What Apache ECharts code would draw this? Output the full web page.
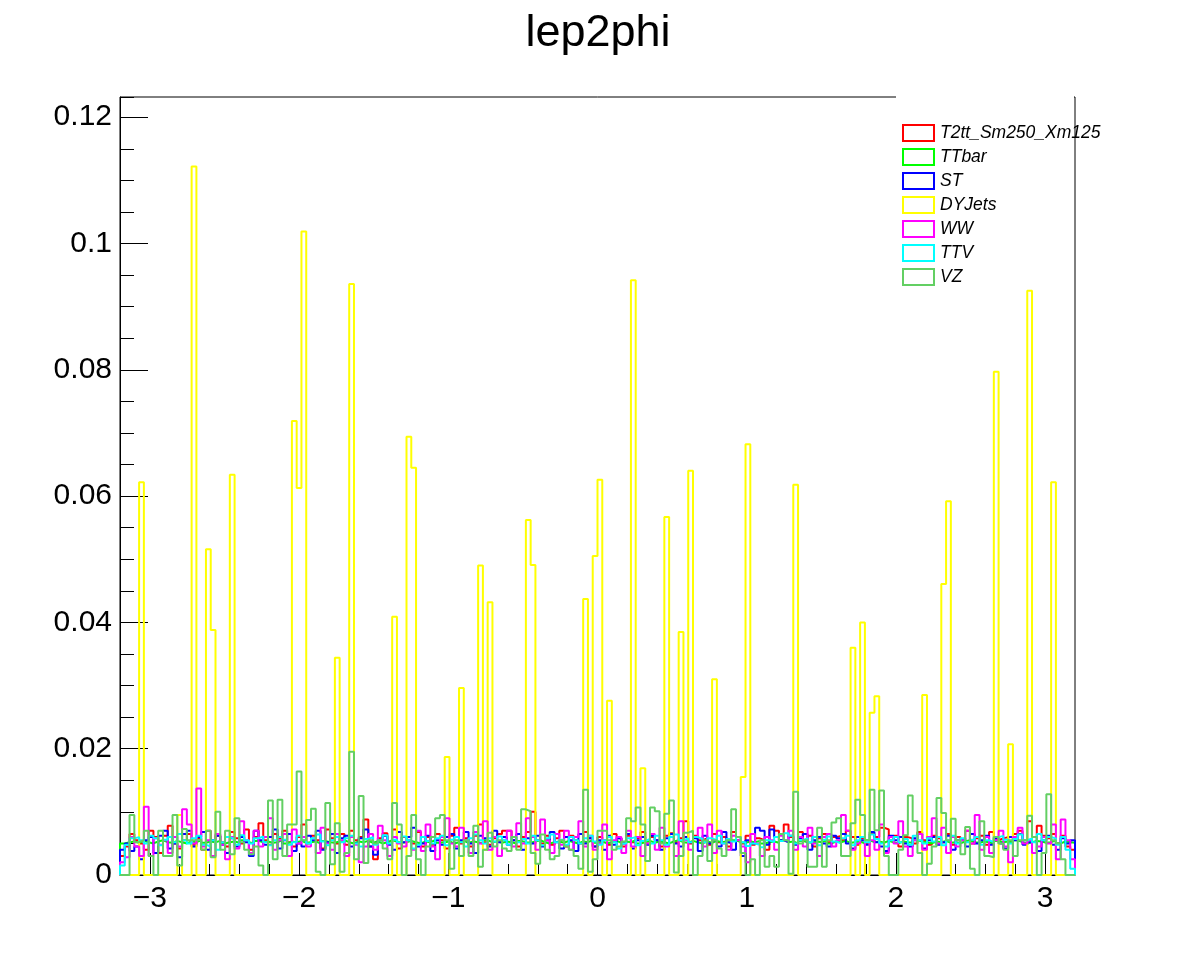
<!DOCTYPE html>
<html><head><meta charset="utf-8">
<script src="https://cdn.jsdelivr.net/npm/echarts@6/dist/echarts.min.js"></script>
<style>html,body{margin:0;padding:0;background:#fff}#c{width:1196px;height:972px}</style>
</head><body><div id="c"></div>
<script>
// Histogram binning
const xMin = -3.2, xMax = 3.2, nBins = 200;
const yMax = 0.1232;
const xTickValues = [-3, -2, -1, 0, 1, 2, 3];
const xTickLabels = ['\u22123', '\u22122', '\u22121', '0', '1', '2', '3'];

const seriesNames = ['T2tt_Sm250_Xm125', 'TTbar', 'ST', 'DYJets', 'WW', 'TTV', 'VZ'];
const seriesColors = ['#ff0000', '#00ff00', '#0000ff', '#ffff00', '#ff00ff', '#00ffff', '#63cf63'];

const t2tt = [
.0030,.0045,.0065,.0055,.0050,.0040,.0070,.0060,.0035,.0062,
.0078,.0050,.0042,.0055,.0065,.0048,.0058,.0040,.0070,.0055,
.0062,.0052,.0045,.0068,.0058,.0050,.0072,.0040,.0060,.0082,
.0055,.0048,.0065,.0058,.0070,.0052,.0045,.0060,.0080,.0050,
.0062,.0055,.0042,.0072,.0058,.0050,.0065,.0048,.0070,.0055,
.0060,.0088,.0045,.0025,.0058,.0066,.0050,.0072,.0042,.0060,
.0055,.0050,.0068,.0045,.0060,.0048,.0065,.0055,.0042,.0062,
.0075,.0050,.0058,.0045,.0062,.0080,.0052,.0048,.0058,.0065,
.0070,.0070,.0055,.0045,.0060,.0068,.0100,.0055,.0050,.0062,
.0048,.0058,.0070,.0045,.0062,.0055,.0050,.0068,.0058,.0045,
.0060,.0055,.0048,.0065,.0058,.0045,.0062,.0052,.0058,.0068,
.0050,.0060,.0055,.0045,.0062,.0066,.0052,.0058,.0085,.0050,
.0062,.0055,.0058,.0048,.0065,.0052,.0060,.0045,.0068,.0055,
.0050,.0062,.0048,.0058,.0055,.0040,.0078,.0070,.0055,.0080,
.0060,.0050,.0068,.0055,.0062,.0045,.0058,.0065,.0052,.0060,
.0062,.0055,.0070,.0060,.0048,.0058,.0050,.0065,.0060,.0075,
.0072,.0055,.0062,.0045,.0060,.0058,.0050,.0068,.0055,.0048,
.0062,.0058,.0052,.0065,.0048,.0060,.0055,.0070,.0050,.0058,
.0062,.0048,.0068,.0055,.0058,.0060,.0052,.0065,.0070,.0055,
.0085,.0060,.0078,.0062,.0058,.0065,.0050,.0062,.0045,.0040];

const ttbar = [
.0050,.0052,.0053,.0051,.0054,.0052,.0050,.0053,.0055,.0052,
.0051,.0054,.0052,.0050,.0053,.0052,.0055,.0051,.0053,.0052,
.0054,.0050,.0052,.0053,.0051,.0055,.0052,.0050,.0054,.0052,
.0053,.0051,.0052,.0055,.0050,.0053,.0052,.0054,.0051,.0052,
.0053,.0050,.0054,.0052,.0051,.0053,.0055,.0052,.0050,.0053,
.0052,.0054,.0051,.0053,.0050,.0052,.0055,.0053,.0051,.0052,
.0054,.0052,.0050,.0053,.0052,.0055,.0051,.0052,.0053,.0050,
.0052,.0054,.0051,.0053,.0052,.0050,.0055,.0052,.0053,.0051,
.0053,.0052,.0050,.0054,.0052,.0051,.0053,.0055,.0052,.0050,
.0052,.0053,.0051,.0054,.0052,.0050,.0053,.0052,.0055,.0051,
.0053,.0050,.0052,.0054,.0051,.0053,.0052,.0055,.0050,.0052,
.0054,.0051,.0053,.0052,.0050,.0053,.0055,.0052,.0051,.0054,
.0052,.0050,.0053,.0051,.0054,.0052,.0053,.0050,.0055,.0052,
.0051,.0053,.0052,.0054,.0050,.0052,.0053,.0051,.0055,.0052,
.0053,.0050,.0054,.0052,.0051,.0053,.0052,.0055,.0050,.0053,
.0052,.0054,.0051,.0052,.0053,.0050,.0055,.0052,.0053,.0051,
.0054,.0052,.0050,.0053,.0052,.0051,.0055,.0053,.0052,.0050,
.0053,.0052,.0054,.0051,.0052,.0050,.0053,.0055,.0052,.0051,
.0053,.0052,.0050,.0054,.0052,.0053,.0051,.0055,.0052,.0050,
.0052,.0054,.0053,.0051,.0052,.0055,.0050,.0053,.0052,.0051];

const st = [
.0040,.0050,.0038,.0045,.0025,.0055,.0060,.0035,.0062,.0070,
.0042,.0050,.0028,.0065,.0070,.0045,.0060,.0068,.0040,.0055,
.0062,.0048,.0035,.0058,.0045,.0060,.0052,.0030,.0070,.0055,
.0048,.0060,.0072,.0042,.0055,.0065,.0038,.0050,.0045,.0062,
.0055,.0070,.0040,.0052,.0065,.0035,.0058,.0062,.0045,.0050,
.0058,.0072,.0045,.0032,.0055,.0062,.0048,.0040,.0068,.0052,
.0060,.0075,.0045,.0050,.0062,.0038,.0055,.0048,.0060,.0065,
.0042,.0055,.0068,.0050,.0035,.0062,.0058,.0045,.0070,.0052,
.0060,.0048,.0055,.0065,.0040,.0058,.0050,.0062,.0045,.0055,
.0068,.0052,.0042,.0060,.0055,.0038,.0065,.0050,.0058,.0045,
.0055,.0040,.0062,.0048,.0058,.0050,.0065,.0042,.0055,.0060,
.0048,.0062,.0055,.0040,.0058,.0065,.0050,.0045,.0060,.0052,
.0058,.0038,.0062,.0050,.0055,.0045,.0068,.0052,.0040,.0060,
.0030,.0055,.0050,.0075,.0070,.0048,.0072,.0060,.0055,.0052,
.0062,.0048,.0058,.0065,.0040,.0055,.0060,.0050,.0045,.0062,
.0058,.0065,.0050,.0042,.0060,.0055,.0048,.0068,.0052,.0045,
.0038,.0062,.0055,.0060,.0050,.0045,.0058,.0065,.0042,.0055,
.0060,.0048,.0052,.0062,.0040,.0055,.0058,.0045,.0065,.0050,
.0055,.0062,.0048,.0058,.0050,.0042,.0060,.0055,.0065,.0048,
.0052,.0060,.0038,.0055,.0062,.0048,.0040,.0058,.0050,.0055];

const dyjets = [
0,0,0,0,.0622,0,0,0,0,0,
0,0,.0095,0,0,.1122,0,0,.0516,.0388,
0,0,0,.0634,0,0,0,0,0,0,
0,0,0,0,0,0,.0719,.0613,.1019,0,
0,0,0,0,0,.0344,0,0,.0936,0,
0,0,0,0,0,0,0,.0409,0,0,
.0694,.0645,0,0,0,0,0,0,.0187,0,
0,.0296,0,0,0,.0490,.0040,.0432,0,0,
0,0,0,0,0,.0562,.0491,0,0,0,
0,0,0,0,0,0,0,.0437,0,.0505,
.0626,0,.0276,0,0,0,0,.0942,0,.0169,
0,0,0,0,.0567,0,0,.0385,0,.0640,
0,0,0,0,.0310,0,0,0,0,0,
.0155,.0682,0,0,0,0,0,0,0,0,
0,.0618,0,0,0,0,0,0,0,0,
0,0,0,.0360,0,.0400,0,.0257,.0283,0,
0,0,0,0,0,0,0,0,.0285,0,
0,0,.0461,.0592,0,0,0,0,0,0,
0,0,0,.0797,0,0,.0207,0,0,0,
.0925,0,0,0,0,.0622,0,0,0,0];

const ww = [
.0020,.0028,.0060,.0045,.0030,.0108,.0030,.0058,.0048,.0055,
.0035,.0060,.0045,.0104,.0080,.0050,.0137,.0045,.0055,.0030,
.0065,.0048,.0025,.0060,.0042,.0085,.0055,.0035,.0070,.0045,
.0060,.0090,.0040,.0055,.0065,.0030,.0072,.0050,.0060,.0045,
.0058,.0035,.0075,.0050,.0040,.0065,.0055,.0030,.0060,.0048,
.0020,.0045,.0065,.0040,.0078,.0055,.0030,.0060,.0050,.0045,
.0055,.0040,.0070,.0038,.0080,.0045,.0025,.0060,.0090,.0050,
.0045,.0075,.0055,.0035,.0068,.0050,.0085,.0040,.0060,.0030,
.0055,.0070,.0045,.0082,.0050,.0090,.0060,.0040,.0088,.0055,
.0035,.0065,.0048,.0070,.0040,.0060,.0085,.0045,.0062,.0040,
.0050,.0080,.0025,.0055,.0060,.0035,.0070,.0045,.0060,.0030,
.0050,.0065,.0040,.0075,.0045,.0060,.0030,.0085,.0055,.0040,
.0060,.0075,.0045,.0080,.0035,.0070,.0050,.0040,.0062,.0055,
.0045,.0020,.0065,.0050,.0030,.0060,.0055,.0040,.0062,.0055,
.0070,.0040,.0060,.0045,.0075,.0050,.0030,.0060,.0065,.0045,
.0055,.0095,.0070,.0040,.0050,.0060,.0030,.0055,.0040,.0080,
.0035,.0060,.0050,.0085,.0045,.0030,.0055,.0065,.0040,.0060,
.0090,.0050,.0075,.0035,.0060,.0045,.0055,.0070,.0050,.0095,
.0040,.0060,.0035,.0055,.0070,.0045,.0020,.0060,.0075,.0050,
.0055,.0035,.0045,.0060,.0050,.0080,.0025,.0088,.0055,.0025];

const ttv = [
.0015,.0048,.0058,.0060,.0055,.0050,.0062,.0058,.0047,.0056,
.0060,.0052,.0065,.0055,.0050,.0058,.0062,.0048,.0045,.0055,
.0040,.0052,.0060,.0057,.0048,.0063,.0055,.0050,.0058,.0061,
.0052,.0047,.0055,.0060,.0056,.0048,.0052,.0062,.0055,.0050,
.0058,.0064,.0053,.0047,.0055,.0060,.0052,.0058,.0062,.0050,
.0045,.0057,.0060,.0048,.0055,.0063,.0050,.0056,.0052,.0061,
.0055,.0042,.0048,.0060,.0054,.0050,.0058,.0062,.0047,.0056,
.0060,.0052,.0045,.0058,.0064,.0055,.0050,.0058,.0053,.0061,
.0055,.0048,.0060,.0052,.0057,.0050,.0062,.0055,.0047,.0058,
.0064,.0052,.0056,.0048,.0060,.0055,.0050,.0058,.0062,.0053,
.0048,.0055,.0060,.0052,.0042,.0050,.0058,.0060,.0047,.0054,
.0057,.0050,.0062,.0055,.0048,.0060,.0064,.0055,.0058,.0052,
.0060,.0057,.0052,.0058,.0055,.0062,.0050,.0057,.0053,.0060,
.0052,.0046,.0050,.0048,.0044,.0055,.0052,.0060,.0054,.0066,
.0062,.0050,.0055,.0058,.0052,.0060,.0047,.0056,.0061,.0053,
.0050,.0058,.0062,.0047,.0055,.0060,.0052,.0064,.0057,.0050,
.0045,.0055,.0060,.0052,.0057,.0048,.0062,.0055,.0050,.0058,
.0053,.0060,.0047,.0055,.0062,.0050,.0058,.0052,.0056,.0060,
.0048,.0055,.0052,.0060,.0062,.0056,.0050,.0057,.0064,.0055,
.0058,.0052,.0065,.0055,.0060,.0058,.0048,.0060,.0040,.0010];

const vz = [
0,0,.0095,.0052,.0055,.0070,.0030,0,.0070,.0030,
.0030,.0095,.0015,.0073,.0055,.0055,.0056,.0040,.0070,.0028,
.0100,.0040,.0070,.0033,.0090,.0052,.0040,.0033,.0045,.0015,
0,.0118,.0025,.0119,.0030,.0080,.0080,.0164,.0055,.0087,
.0105,.0005,0,.0114,.0017,.0082,.0005,.0035,.0195,.0025,
.0125,.0019,.0055,.0050,.0055,.0042,.0025,.0114,.0080,0,
.0030,.0095,.0025,0,.0045,.0060,.0090,.0095,.0055,.0010,
.0055,.0030,.0055,.0030,.0078,.0013,.0040,.0067,.0045,.0055,
.0042,.0038,.0060,.0040,.0104,.0101,.0035,.0018,.0064,.0040,
.0025,.0030,.0055,.0045,.0040,.0030,.0010,.0135,.0005,.0025,
.0070,.0070,.0055,.0040,.0045,.0053,.0090,.0085,.0107,.0080,
.0022,.0107,.0101,.0050,.0097,.0118,.0004,.0030,.0067,.0070,
0,.0030,.0055,.0022,.0055,.0042,.0030,.0055,.0104,.0060,
.0035,0,.0025,0,.0055,.0013,.0030,.0013,.0065,.0055,
.0002,.0132,.0050,.0055,.0013,.0013,.0075,.0013,.0055,.0083,
.0090,.0030,.0030,.0082,.0119,.0095,.0055,.0135,.0071,.0134,
.0030,0,0,.0040,.0063,.0126,.0085,.0035,0,.0018,
.0045,.0122,.0098,.0055,.0089,.0055,.0033,.0076,.0010,0,
.0085,.0030,.0028,.0060,.0050,.0040,.0055,.0030,.0055,.0055,
.0094,.0060,0,.0035,.0128,.0055,.0050,.0025,0,0];

const seriesValues = [t2tt, ttbar, st, dyjets, ww, ttv, vz];

const binWidth = (xMax - xMin) / nBins;
function histData(vals) {
  const d = [[xMin, 0]];
  vals.forEach((v, i) => d.push([xMin + i * binWidth, v]));
  d.push([xMax, vals[vals.length - 1]]);
  d.push([xMax, 0]);
  return d;
}

const FONT = 'Liberation Sans, Arial, Helvetica, sans-serif';
const chart = echarts.init(document.getElementById('c'), null, {renderer: 'canvas'});
const ringIcon = 'path://M0,0H33V18H0Z M2,2V16H31V2Z';

chart.setOption({
  animation: false,
  backgroundColor: '#ffffff',
  title: {
    text: 'lep2phi', left: 'center', top: 6,
    textStyle: {fontFamily: FONT, fontSize: 45, fontWeight: 'normal', color: '#000'}
  },
  legend: {
    orient: 'vertical', left: 902, top: 124, padding: 0,
    itemWidth: 33, itemHeight: 18, itemGap: 6,
    icon: ringIcon,
    itemStyle: {borderWidth: 0},
    textStyle: {fontFamily: FONT, fontSize: 17.5, fontStyle: 'italic', color: '#000'},
    data: seriesNames.map((n, i) => ({name: n, itemStyle: {color: seriesColors[i], borderWidth: 0}})),
    selectedMode: false
  },
  grid: {left: 120, right: 121, top: 97, bottom: 97, show: true, borderColor: '#000', borderWidth: 1, backgroundColor: 'transparent'},
  xAxis: [
    {
      type: 'value', min: xMin, max: xMax, interval: 0.2, position: 'bottom',
      axisLine: {show: true, onZero: false, lineStyle: {color: '#000', width: 1}},
      axisTick: {show: true, inside: true, length: 11, lineStyle: {color: '#000'}},
      axisLabel: {show: false}, splitLine: {show: false}
    },
    {
      type: 'value', min: xMin, max: xMax, position: 'bottom',
      axisLine: {show: false, onZero: false},
      axisTick: {show: true, inside: true, length: 22, lineStyle: {color: '#000'}},
      axisLabel: {
        show: true, margin: 9, color: '#000', fontFamily: FONT, fontSize: 30,
        formatter: function (v) {
          for (let i = 0; i < xTickValues.length; i++) {
            if (Math.abs(v - xTickValues[i]) < 1e-6) return xTickLabels[i];
          }
          return '';
        }
      },
      splitLine: {show: false}
    }
  ],
  yAxis: [
    {
      type: 'value', min: 0, max: yMax, interval: 0.005, position: 'left',
      axisLine: {show: true, onZero: false, lineStyle: {color: '#000', width: 1}},
      axisTick: {show: true, inside: true, length: 14, lineStyle: {color: '#000'}},
      axisLabel: {show: false}, splitLine: {show: false}
    },
    {
      type: 'value', min: 0, max: yMax, interval: 0.02, position: 'left',
      axisLine: {show: false, onZero: false},
      axisTick: {show: true, inside: true, length: 28, lineStyle: {color: '#000'}},
      axisLabel: {show: true, showMaxLabel: false, margin: 8, color: '#000', fontFamily: FONT, fontSize: 30},
      splitLine: {show: false}
    }
  ],
  graphic: [
    {type: 'rect', left: 896, top: 95, shape: {width: 178, height: 4}, style: {fill: '#ffffff'}, z: 100, silent: true}
  ],
  series: seriesNames.map((n, i) => ({
    name: n, type: 'line', step: 'end', symbol: 'none',
    xAxisIndex: 0, yAxisIndex: 0,
    data: histData(seriesValues[i]),
    color: seriesColors[i],
    lineStyle: {color: seriesColors[i], width: 2},
    itemStyle: {color: seriesColors[i]},
    silent: true, z: 2 + i * 0.01
  }))
});
</script>
</body></html>
